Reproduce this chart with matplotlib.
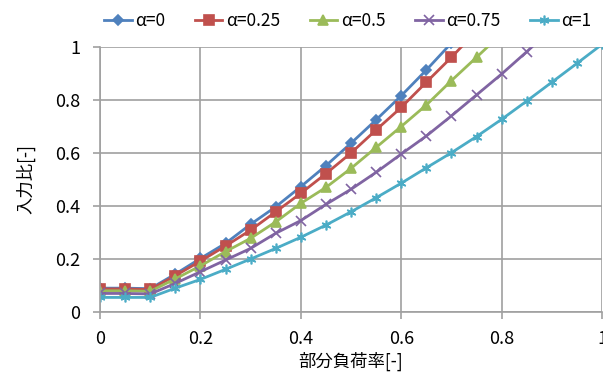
### part load ratio vs input ratio chart
# recreates the excel-style line chart with five alpha series

import matplotlib
matplotlib.use('Agg')
import matplotlib.pyplot as plt
import numpy as np

# set fonts (japanese labels)
plt.rcParams['font.family'] = ['Noto Sans CJK JP', 'DejaVu Sans']

# load ratio values (x axis)
load_ratio = [0.0, 0.05, 0.1, 0.15, 0.2, 0.25, 0.3, 0.35, 0.4, 0.45, 0.5,
              0.55, 0.6, 0.65, 0.7, 0.75, 0.8, 0.85, 0.9, 0.95, 1.0]

# input ratio per alpha
alpha_0 = [0.090, 0.090, 0.088, 0.143, 0.202, 0.259, 0.331, 0.397, 0.473,
           0.552, 0.637, 0.725, 0.816, 0.913, 1.015]
alpha_025 = [0.087, 0.087, 0.085, 0.137, 0.192, 0.249, 0.309, 0.378, 0.448,
             0.522, 0.600, 0.687, 0.772, 0.867, 0.961, 1.060]
alpha_05 = [0.080, 0.080, 0.078, 0.125, 0.174, 0.228, 0.278, 0.340, 0.410,
            0.470, 0.542, 0.621, 0.700, 0.781, 0.873, 0.961, 1.050]
alpha_075 = [0.070, 0.070, 0.068, 0.108, 0.152, 0.196, 0.240, 0.297, 0.345,
             0.406, 0.463, 0.527, 0.596, 0.664, 0.740, 0.819, 0.898, 0.982,
             1.070]
alpha_1 = [0.055, 0.055, 0.055, 0.090, 0.123, 0.161, 0.200, 0.240, 0.282,
           0.328, 0.378, 0.431, 0.486, 0.544, 0.601, 0.662, 0.727, 0.796,
           0.867, 0.938, 1.010]

labels = ['α=0', 'α=0.25', 'α=0.5', 'α=0.75', 'α=1']
series = [alpha_0, alpha_025, alpha_05, alpha_075, alpha_1]
tick_labels = ['0', '0.2', '0.4', '0.6', '0.8', '1']

# excel 2007 default palette and markers
colors = ['#4F81BD', '#C0504D', '#9BBB59', '#8064A2', '#4BACC6']
markers = ['D', 's', '^', 'x', (6, 2, 0)]
msizes = [5, 6.5, 6.5, 6.5, 7]

# build figure
fig = plt.figure(figsize = (6.03, 3.75), dpi = 100)
ax = fig.add_axes([100 / 603, 1 - 312 / 375, 502 / 603, (312 - 47) / 375])

for vals, lab, c, m, ms in zip(series, labels, colors, markers, msizes):
    ax.plot(load_ratio[:len(vals)], vals, color = c, marker = m,
            markersize = ms, linewidth = 2, label = lab,
            markeredgewidth = 1.2)

# define graphical parameters
ax.set_xlim(0, 1)
ax.set_ylim(0, 1)
ax.set_xticks(np.arange(0, 1.01, 0.2))
ax.set_yticks(np.arange(0, 1.01, 0.2))
ax.set_xticklabels(tick_labels)
ax.set_yticklabels(tick_labels)
ax.grid(True, color = '#A0A0A0', linewidth = 1.2)
ax.set_axisbelow(True)
for side in ['top', 'right']:
    ax.spines[side].set_visible(False)
for side in ['left', 'bottom']:
    ax.spines[side].set_color('#A0A0A0')
    ax.spines[side].set_linewidth(1.2)
ax.tick_params(direction = 'out', length = 5, width = 1.2, color = '#A0A0A0',
               labelsize = 13)
ax.tick_params(axis = 'y', pad = 9)
ax.tick_params(axis = 'x', pad = 8)

ax.set_xlabel('部分負荷率[-]', fontsize = 12.5, labelpad = 3)
ax.set_ylabel('入力比[-]', fontsize = 12.5, labelpad = 14)

ax.legend(loc = 'lower center', bbox_to_anchor = (0.493, 1.0), ncol = 5,
          frameon = False, fontsize = 12.5, handlelength = 1.6,
          handletextpad = 0.2, columnspacing = 1.7, borderaxespad = 0.6)

plt.savefig('out.png', dpi = 100)
